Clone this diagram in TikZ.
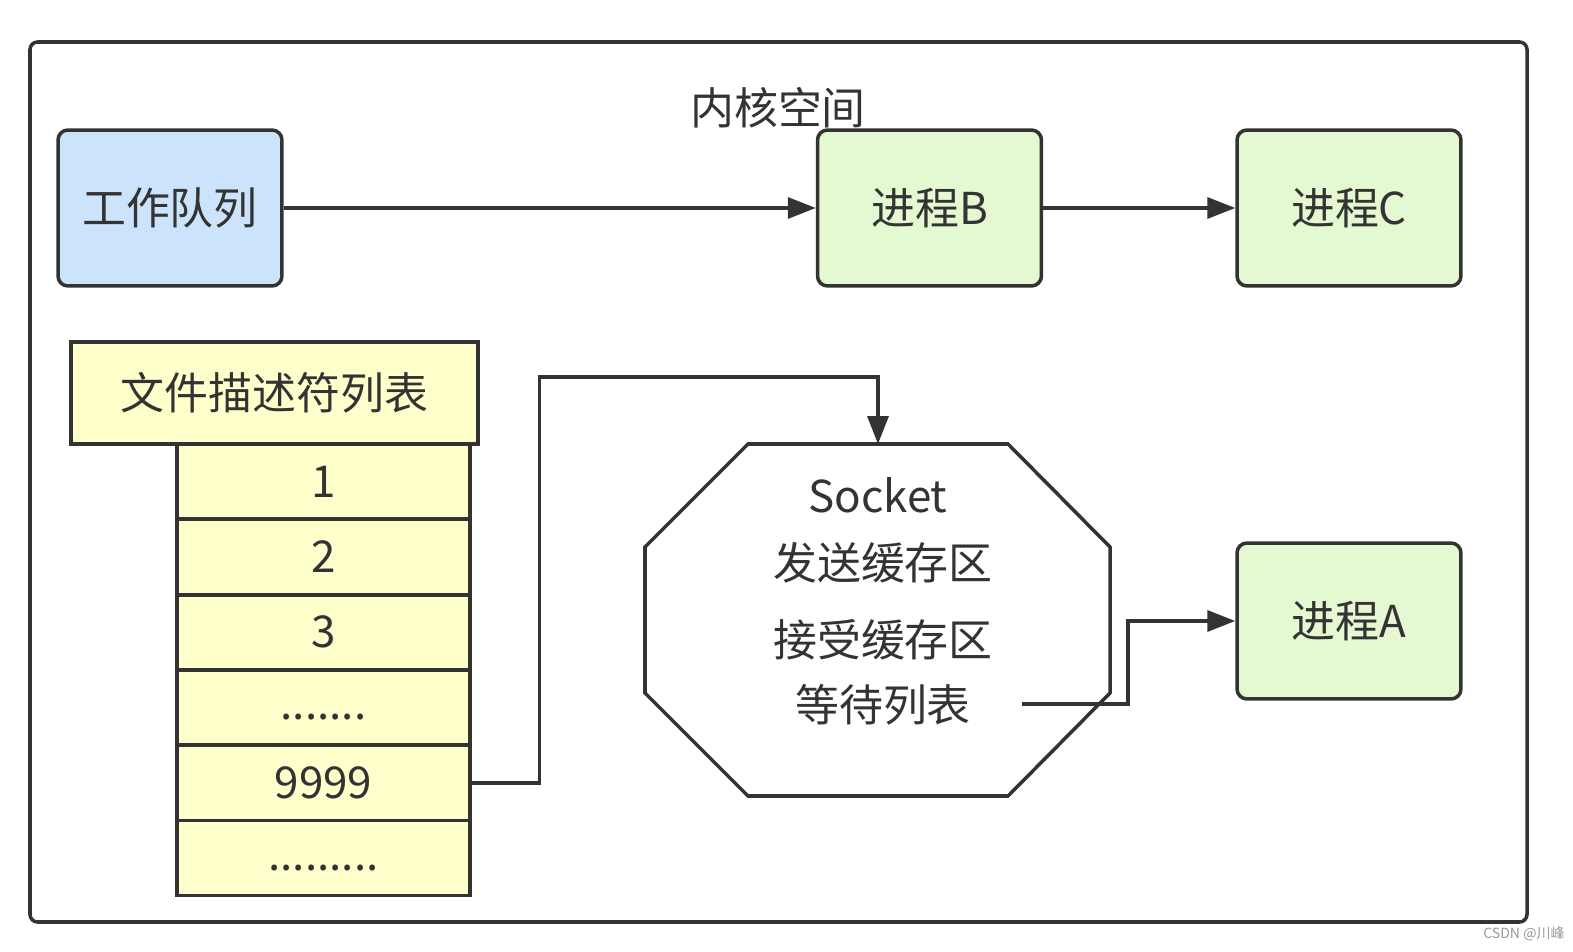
\documentclass[tikz,border=0pt]{standalone}
\usepackage{fontspec}
\setmainfont{Noto Sans CJK SC}
\usetikzlibrary{arrows.meta}

\definecolor{linegray}{HTML}{333333}
\definecolor{qblue}{HTML}{CCE4FB}
\definecolor{pgreen}{HTML}{E4F8D2}
\definecolor{fdyellow}{HTML}{FFFFCC}

\tikzset{
  txt/.style={text=linegray, font=\fontsize{25}{30}\selectfont},
  box/.style={txt, draw=linegray, line width=2pt, rounded corners=0.2cm,
    minimum width=4.48cm, minimum height=3.12cm},
  proc/.style={box, fill=pgreen},
  cell/.style={txt, draw=linegray, line width=2pt, fill=fdyellow,
    minimum width=5.86cm, minimum height=1.5cm},
  arr/.style={draw=linegray, line width=2pt,
    -{Triangle[length=0.56cm,width=0.42cm]}}
}

\begin{document}
\begin{tikzpicture}[x=0.02cm,y=-0.02cm]
\useasboundingbox (0,0) rectangle (1573,952);
\fill[white] (0,0) rectangle (1573,952);
% kernel space frame
\draw[draw=linegray, line width=2pt, rounded corners=0.15cm] (30,42) rectangle (1527,922);
\node[txt] (kernel) at (778,108) {内核空间};
% work queue and processes
\node[box, fill=qblue] (queue) at (170,208) {工作队列};
\node[proc] (procB) at (929.5,208) {进程B};
\node[proc] (procC) at (1349,208) {进程C};
\node[proc] (procA) at (1349,621) {进程A};
\draw[arr] (queue.east) -- (procB.west);
\draw[arr] (procB.east) -- (procC.west);
% file descriptor list
\node[cell, minimum width=8.14cm, minimum height=2.04cm] (fdlist) at (274.5,393) {文件描述符列表};
\foreach \i/\t in {1/1,2/2,3/3,4/{\smash{\raisebox{-7pt}{.......}}},5/9999,6/{\smash{\raisebox{-7pt}{.........}}}} {
  \node[cell] (c\i) at (323.5,{481.7+75.3*(\i-1)}) {\t};
}
% socket
\draw[draw=linegray, line width=2pt, fill=white]
  (748,444) -- (1008,444) -- (1110,547) -- (1110,693)
  -- (1008,796) -- (748,796) -- (645,693) -- (645,547) -- cycle;
\coordinate (socktop) at (878,444);
\node[txt] (sock) at (878,495) {Socket};
\node[txt] (sendq) at (883,563) {发送缓存区};
\node[txt] (recvq) at (883,640) {接受缓存区};
\node[txt] (waitq) at (883,705) {等待列表};
\coordinate (waitend) at (1022,704);
% connectors
\draw[arr] (c5.east) -- ++(68,0) |- (878,377) -- (socktop);
\draw[arr] (waitend) -- ++(106,0) |- (procA.west);
% watermark
\node[text=gray!80, font=\fontsize{8}{10}\selectfont] (mark) at (1524,934) {CSDN @川峰};
\end{tikzpicture}
\end{document}
